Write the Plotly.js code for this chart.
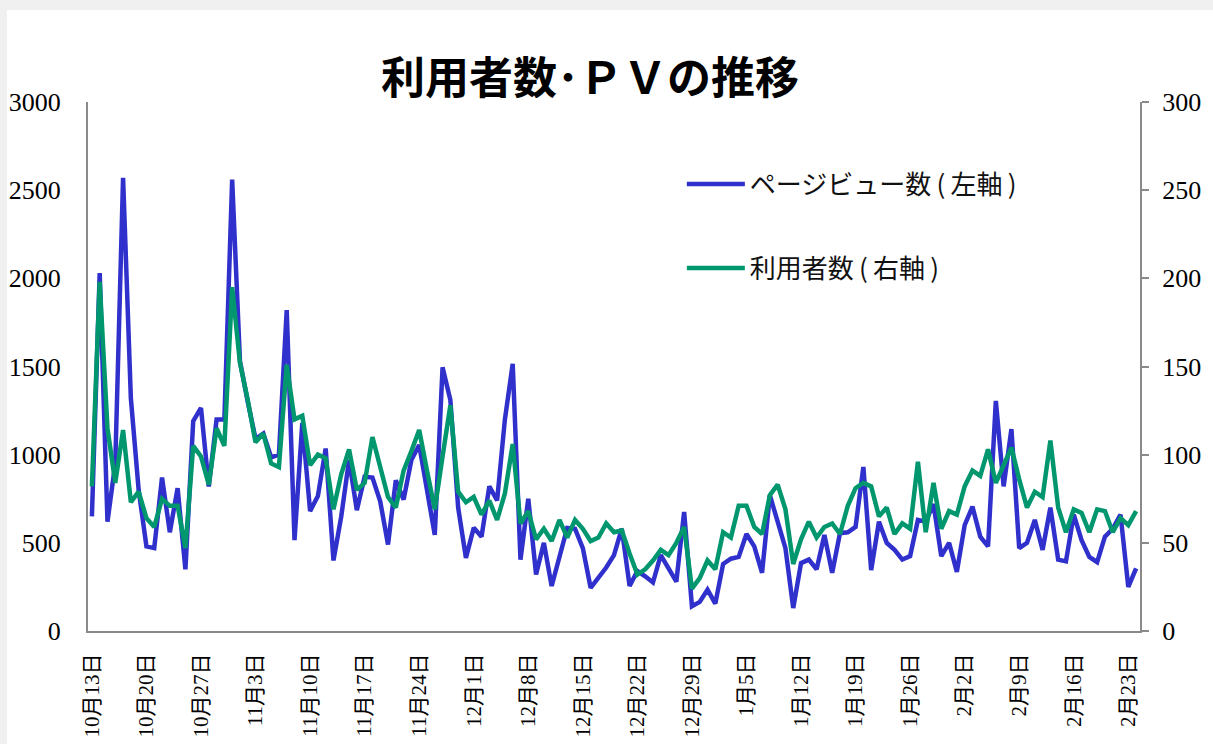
<!DOCTYPE html>
<html>
<head>
<meta charset="utf-8">
<script src="https://cdn.plot.ly/plotly-3.0.1.min.js"></script>
<style>
  html, body { margin: 0; padding: 0; background: #f0f0f0; width: 1213px; height: 744px; overflow: hidden; }
  #chart { position: absolute; left: 7px; top: 10px; width: 1206px; height: 734px; background: #ffffff; }
</style>
</head>
<body>
<div id="chart"></div>
<script>
// Weekly tick labels (every 7th day, starting 10月13日)
const tickLabels = ["10月13日","10月20日","10月27日","11月3日","11月10日","11月17日","11月24日",
  "12月1日","12月8日","12月15日","12月22日","12月29日","1月5日","1月12日","1月19日",
  "1月26日","2月2日","2月9日","2月16日","2月23日"];

// Page views (left axis), daily from 10月13日
const pageViews = [
  650, 2030, 620, 950, 2570, 1320, 800, 480, 470, 870,
  560, 810, 350, 1190, 1265, 820, 1200, 1200, 2560, 1530,
  1300, 1090, 1120, 985, 1000, 1820, 515, 1180, 680, 765,
  1035, 400, 650, 970, 685, 875, 870, 735, 490, 855,
  745, 970, 1055, 780, 545, 1495, 1310, 700, 415, 585,
  535, 820, 740, 1200, 1515, 405, 750, 320, 500, 255,
  430, 585, 580, 470, 245, 300, 360, 430, 580, 255,
  340, 310, 275, 430, 360, 280, 675, 140, 165, 235,
  155, 380, 410, 420, 550, 480, 330, 770, 620, 470,
  130, 385, 405, 350, 545, 330, 555, 560, 590, 930,
  345, 620, 500, 460, 405, 425, 630, 620, 720, 425,
  500, 335, 600, 705, 535, 480, 1305, 820, 1145, 470,
  500, 630, 460, 700, 405, 395, 660, 515, 420, 390,
  535, 580, 660, 250, 355
];

// Users (right axis), daily from 10月13日
const users = [
  82, 198, 115, 84, 114, 73, 79, 64, 59, 75,
  71, 71, 47, 105, 99, 83, 115, 105, 195, 152,
  131, 107, 112, 95, 93, 151, 120, 122, 94, 100,
  98, 69, 89, 103, 80, 84, 110, 92, 76, 70,
  91, 102, 114, 91, 69, 99, 128, 79, 73, 76,
  66, 74, 63, 78, 106, 61, 68, 52, 58, 51,
  63, 53, 63, 58, 51, 53, 61, 56, 57, 44,
  32, 35, 40, 46, 43, 50, 59, 24, 30, 40,
  35, 56, 53, 71, 71, 59, 55, 77, 83, 69,
  38, 52, 62, 53, 59, 61, 55, 71, 81, 84,
  82, 65, 70, 55, 61, 58, 96, 56, 84, 58,
  68, 66, 82, 91, 88, 103, 84, 94, 104, 86,
  70, 79, 76, 108, 70, 56, 69, 67, 56, 69,
  68, 56, 64, 60, 68
];

const dayIndex = pageViews.map((_, i) => i);
const tickPositions = tickLabels.map((_, i) => i * 7);

const serif = '"Liberation Serif", "Times New Roman", "Noto Sans CJK JP", serif';
const gothic = '"Noto Sans CJK JP", sans-serif';
const axisGray = '#8a8a8a';

const traces = [
  {
    x: dayIndex, y: pageViews, type: 'scatter', mode: 'lines',
    name: 'ページビュー数\u2009(\u2009左軸\u2009)', yaxis: 'y', legend: 'legend',
    line: { color: '#3030cc', width: 4.5 }
  },
  {
    x: dayIndex, y: users, type: 'scatter', mode: 'lines',
    name: '利用者数\u2009(\u2009右軸\u2009)', yaxis: 'y2', legend: 'legend2',
    line: { color: '#00966e', width: 4.5 }
  }
];

const layout = {
  width: 1206, height: 734,
  paper_bgcolor: '#ffffff', plot_bgcolor: '#ffffff',
  margin: { l: 81, r: 73, t: 92, b: 113 },
  title: {
    text: '<b>利用者数･ＰＶの推移</b>',
    font: { family: gothic, size: 44, color: '#000000' },
    xref: 'container', x: 0.4834, xanchor: 'center',
    yref: 'container', y: 0.907, yanchor: 'middle'
  },
  xaxis: {
    range: [-0.5, pageViews.length - 0.5],
    tickmode: 'array', tickvals: tickPositions, ticktext: tickLabels,
    tickangle: -90, ticks: '', showgrid: false, zeroline: false,
    showline: true, linecolor: axisGray, linewidth: 2,
    tickfont: { family: serif, size: 21, color: '#000000' },
    ticklabelstandoff: 12, fixedrange: true
  },
  yaxis: {
    range: [0, 3000], dtick: 500, tick0: 0,
    ticks: '', showgrid: false, zeroline: false,
    showline: true, linecolor: axisGray, linewidth: 2,
    tickfont: { family: serif, size: 26, color: '#000000' },
    ticklabelstandoff: 20, fixedrange: true
  },
  yaxis2: {
    range: [0, 300], dtick: 50, tick0: 0,
    overlaying: 'y', side: 'right',
    ticks: 'outside', ticklen: 7, tickwidth: 2, tickcolor: axisGray,
    showgrid: false, zeroline: false,
    showline: true, linecolor: axisGray, linewidth: 2,
    tickfont: { family: serif, size: 26, color: '#000000' },
    ticklabelstandoff: 8, fixedrange: true
  },
  showlegend: true,
  legend: {
    x: 0.5645, xanchor: 'left', y: 0.845, yanchor: 'middle',
    bgcolor: 'rgba(0,0,0,0)', borderwidth: 0, itemwidth: 58,
    font: { family: gothic, size: 26, color: '#111111' }
  },
  legend2: {
    x: 0.5645, xanchor: 'left', y: 0.686, yanchor: 'middle',
    bgcolor: 'rgba(0,0,0,0)', borderwidth: 0, itemwidth: 58,
    font: { family: gothic, size: 26, color: '#111111' }
  }
};

Plotly.newPlot('chart', traces, layout, { displayModeBar: false, staticPlot: true });
</script>
</body>
</html>
